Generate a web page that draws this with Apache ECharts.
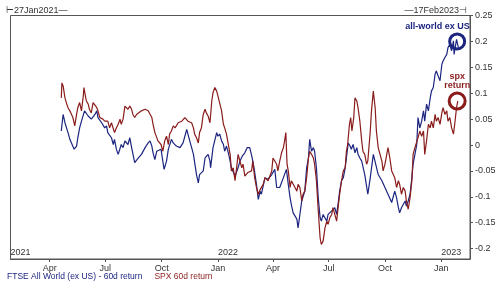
<!DOCTYPE html>
<html><head><meta charset="utf-8">
<script src="https://cdn.jsdelivr.net/npm/echarts@6/dist/echarts.min.js"></script>
<style>html,body{margin:0;padding:0;background:#fff}#c{width:500px;height:285px}</style>
</head><body><div id="c"></div>
<script>
const ftseName = 'FTSE All World (ex US) - 60d return';
const spxName = 'SPX 60d return';
const xRange = ['2021-01-27', '2023-02-17'];
const quarterTicks = ['2021-04-01','2021-07-01','2021-10-01','2022-01-01','2022-04-01','2022-07-01','2022-10-01','2023-01-01'];
const monthLabels = ['Jan','Feb','Mar','Apr','May','Jun','Jul','Aug','Sep','Oct','Nov','Dec'];
const yearTicks = ['2021-01-27','2022-01-01','2023-01-01'];
const yTicks = [-0.2,-0.15,-0.1,-0.05,0,0.05,0.1,0.15,0.2,0.25];
const yRange = [-0.22, 0.25];

const ftseDates = ['2021-04-20','2021-04-23','2021-04-26','2021-05-01','2021-05-04','2021-05-07','2021-05-11','2021-05-15','2021-05-17','2021-05-20','2021-05-23','2021-05-28','2021-05-31','2021-06-03','2021-06-05','2021-06-08','2021-06-14','2021-06-17','2021-06-19','2021-06-25','2021-06-30','2021-07-03','2021-07-05','2021-07-11','2021-07-14','2021-07-16','2021-07-19','2021-07-22','2021-07-27','2021-07-30','2021-08-02','2021-08-07','2021-08-10','2021-08-13','2021-08-18','2021-08-24','2021-08-29','2021-09-04','2021-09-09','2021-09-12','2021-09-15','2021-09-17','2021-09-20','2021-09-23','2021-09-25','2021-09-30','2021-10-05','2021-10-09','2021-10-12','2021-10-17','2021-10-20','2021-10-25','2021-10-31','2021-11-05','2021-11-11','2021-11-13','2021-11-16','2021-11-22','2021-11-27','2021-11-30','2021-12-02','2021-12-08','2021-12-11','2021-12-16','2021-12-19','2021-12-20','2021-12-24','2021-12-30','2022-01-01','2022-01-04','2022-01-07','2022-01-10','2022-01-12','2022-01-15','2022-01-18','2022-01-21','2022-01-23','2022-01-29','2022-02-03','2022-02-06','2022-02-10','2022-02-14','2022-02-18','2022-02-22','2022-02-26','2022-03-01','2022-03-05','2022-03-08','2022-03-11','2022-03-13','2022-03-19','2022-03-24','2022-03-30','2022-04-04','2022-04-07','2022-04-12','2022-04-18','2022-04-23','2022-04-26','2022-04-29','2022-05-01','2022-05-04','2022-05-07','2022-05-10','2022-05-12','2022-05-15','2022-05-18','2022-05-23','2022-05-26','2022-05-29','2022-05-31','2022-06-03','2022-06-06','2022-06-08','2022-06-11','2022-06-14','2022-06-17','2022-06-19','2022-06-22','2022-06-25','2022-06-28','2022-06-30','2022-07-06','2022-07-11','2022-07-14','2022-07-17','2022-07-19','2022-07-22','2022-07-25','2022-07-28','2022-07-30','2022-08-02','2022-08-05','2022-08-07','2022-08-10','2022-08-13','2022-08-16','2022-08-18','2022-08-21','2022-08-24','2022-08-29','2022-09-03','2022-09-07','2022-09-12','2022-09-15','2022-09-20','2022-09-26','2022-10-01','2022-10-06','2022-10-12','2022-10-17','2022-10-20','2022-10-23','2022-10-25','2022-10-28','2022-11-03','2022-11-05','2022-11-08','2022-11-11','2022-11-14','2022-11-16','2022-11-19','2022-11-22','2022-11-24','2022-11-27','2022-11-30','2022-12-03','2022-12-05','2022-12-08','2022-12-11','2022-12-14','2022-12-16','2022-12-19','2022-12-22','2022-12-24','2022-12-27','2022-12-30','2023-01-02','2023-01-04','2023-01-07','2023-01-10','2023-01-12','2023-01-15','2023-01-18','2023-01-21','2023-01-22','2023-01-26','2023-01-29'];
const ftseValues = [0.027,0.059,0.043,0.024,0.011,0.008,-0.008,-0.002,0.014,0.033,0.046,0.066,0.069,0.056,0.056,0.050,0.059,0.066,0.053,0.043,0.033,0.037,0.024,0.014,0.001,0.011,-0.008,-0.018,0.001,-0.005,0.008,0.001,0.014,-0.005,-0.034,-0.025,-0.018,-0.005,0.004,0.008,-0.002,-0.015,-0.028,-0.012,-0.015,-0.008,-0.047,-0.031,-0.008,0.011,0.004,-0.002,-0.005,0.004,0.030,0.021,0.008,-0.018,-0.057,-0.073,-0.057,-0.050,-0.025,-0.018,-0.031,-0.044,-0.005,0.024,0.017,0.021,0.008,0.001,-0.012,-0.002,-0.015,-0.031,-0.044,-0.060,-0.044,-0.031,-0.021,-0.015,-0.005,-0.005,-0.025,-0.044,-0.076,-0.105,-0.089,-0.095,-0.063,-0.066,-0.057,-0.047,-0.082,-0.082,-0.063,-0.047,-0.076,-0.102,-0.115,-0.131,-0.134,-0.143,-0.160,-0.134,-0.108,-0.089,-0.044,-0.025,0.011,-0.012,-0.005,-0.012,-0.044,-0.102,-0.140,-0.147,-0.134,-0.137,-0.147,-0.134,-0.127,-0.121,-0.134,-0.108,-0.089,-0.069,-0.063,-0.044,-0.025,0.004,-0.002,-0.008,0.001,-0.015,-0.005,-0.018,-0.025,-0.031,-0.057,-0.095,-0.063,-0.018,-0.018,-0.057,-0.069,-0.082,-0.095,-0.111,-0.089,-0.102,-0.121,-0.131,-0.121,-0.108,-0.118,-0.108,-0.095,-0.063,-0.037,-0.018,0.001,0.053,0.033,0.046,0.066,0.046,0.079,0.066,0.091,0.104,0.111,0.137,0.143,0.133,0.124,0.156,0.162,0.169,0.175,0.188,0.194,0.182,0.201,0.175,0.204,0.188];

const spxDates = ['2021-04-20','2021-04-21','2021-04-23','2021-04-26','2021-04-29','2021-05-01','2021-05-04','2021-05-07','2021-05-09','2021-05-12','2021-05-15','2021-05-17','2021-05-20','2021-05-23','2021-05-26','2021-05-27','2021-05-30','2021-05-31','2021-06-03','2021-06-05','2021-06-08','2021-06-11','2021-06-14','2021-06-17','2021-06-19','2021-06-22','2021-06-25','2021-06-27','2021-06-30','2021-07-05','2021-07-08','2021-07-11','2021-07-14','2021-07-16','2021-07-19','2021-07-22','2021-07-25','2021-07-27','2021-07-30','2021-08-02','2021-08-05','2021-08-07','2021-08-10','2021-08-13','2021-08-15','2021-08-18','2021-08-21','2021-08-24','2021-08-29','2021-09-04','2021-09-09','2021-09-15','2021-09-17','2021-09-20','2021-09-23','2021-09-25','2021-09-30','2021-10-03','2021-10-06','2021-10-09','2021-10-12','2021-10-14','2021-10-17','2021-10-20','2021-10-23','2021-10-28','2021-11-03','2021-11-08','2021-11-13','2021-11-19','2021-11-22','2021-11-24','2021-11-27','2021-11-30','2021-12-02','2021-12-05','2021-12-08','2021-12-11','2021-12-13','2021-12-16','2021-12-19','2021-12-22','2021-12-24','2021-12-27','2021-12-30','2022-01-01','2022-01-04','2022-01-07','2022-01-10','2022-01-12','2022-01-15','2022-01-18','2022-01-21','2022-01-23','2022-01-26','2022-01-29','2022-01-31','2022-02-03','2022-02-06','2022-02-09','2022-02-11','2022-02-14','2022-02-17','2022-02-19','2022-02-25','2022-02-27','2022-03-02','2022-03-05','2022-03-08','2022-03-11','2022-03-16','2022-03-19','2022-03-24','2022-03-30','2022-04-01','2022-04-04','2022-04-07','2022-04-09','2022-04-12','2022-04-15','2022-04-18','2022-04-20','2022-04-22','2022-04-24','2022-04-26','2022-04-29','2022-05-01','2022-05-04','2022-05-07','2022-05-10','2022-05-12','2022-05-15','2022-05-18','2022-05-20','2022-05-23','2022-05-26','2022-05-29','2022-05-31','2022-06-03','2022-06-06','2022-06-08','2022-06-11','2022-06-14','2022-06-17','2022-06-19','2022-06-22','2022-06-25','2022-06-28','2022-06-30','2022-07-03','2022-07-06','2022-07-08','2022-07-11','2022-07-14','2022-07-17','2022-07-19','2022-07-22','2022-07-25','2022-07-28','2022-07-30','2022-08-01','2022-08-04','2022-08-06','2022-08-08','2022-08-11','2022-08-13','2022-08-16','2022-08-18','2022-08-21','2022-08-24','2022-08-26','2022-08-29','2022-09-01','2022-09-03','2022-09-07','2022-09-09','2022-09-12','2022-09-15','2022-09-17','2022-09-20','2022-09-23','2022-09-26','2022-09-28','2022-10-01','2022-10-04','2022-10-06','2022-10-09','2022-10-12','2022-10-17','2022-10-20','2022-10-23','2022-10-25','2022-10-28','2022-10-31','2022-11-03','2022-11-05','2022-11-08','2022-11-11','2022-11-14','2022-11-16','2022-11-19','2022-11-22','2022-11-24','2022-11-27','2022-11-30','2022-12-03','2022-12-05','2022-12-08','2022-12-11','2022-12-14','2022-12-16','2022-12-19','2022-12-22','2022-12-24','2022-12-27','2022-12-30','2023-01-02','2023-01-04','2023-01-07','2023-01-10','2023-01-12','2023-01-15','2023-01-18','2023-01-21','2023-01-23','2023-01-26','2023-01-28'];
const spxValues = [0.091,0.120,0.114,0.091,0.079,0.072,0.066,0.069,0.053,0.037,0.059,0.072,0.082,0.066,0.095,0.111,0.091,0.085,0.079,0.069,0.062,0.082,0.082,0.072,0.066,0.053,0.053,0.050,0.046,0.046,0.033,0.043,0.043,0.024,0.033,0.040,0.050,0.040,0.050,0.075,0.072,0.069,0.075,0.069,0.059,0.053,0.059,0.062,0.066,0.069,0.066,0.053,0.040,0.024,0.024,0.008,0.001,-0.012,0.008,0.017,0.001,0.021,0.027,0.037,0.033,0.043,0.046,0.053,0.046,0.043,0.033,0.021,0.014,0.004,0.024,0.033,0.059,0.069,0.062,0.056,0.043,0.085,0.101,0.111,0.104,0.095,0.098,0.066,0.040,0.033,0.021,0.001,-0.018,-0.050,-0.044,-0.069,-0.050,-0.018,-0.031,-0.044,-0.037,-0.060,-0.057,-0.053,-0.050,-0.031,-0.063,-0.082,-0.095,-0.086,-0.076,-0.063,-0.069,-0.050,-0.025,-0.028,-0.037,-0.050,-0.031,-0.015,-0.005,0.008,0.024,-0.037,-0.050,-0.082,-0.069,-0.069,-0.082,-0.089,-0.076,-0.082,-0.108,-0.095,-0.089,-0.063,-0.025,-0.012,-0.018,-0.025,-0.037,-0.069,-0.127,-0.179,-0.192,-0.185,-0.160,-0.147,-0.153,-0.140,-0.134,-0.121,-0.134,-0.147,-0.115,-0.095,-0.069,-0.050,-0.044,-0.012,0.001,0.040,0.053,0.027,0.053,0.091,0.085,0.072,0.046,0.008,-0.012,-0.018,-0.037,-0.031,0.027,0.066,0.104,0.072,0.027,-0.005,-0.018,-0.031,-0.050,-0.037,-0.018,-0.005,-0.025,-0.050,-0.063,-0.082,-0.069,-0.076,-0.095,-0.082,-0.089,-0.108,-0.124,-0.102,-0.069,-0.018,-0.005,-0.005,0.014,0.027,0.017,0.027,-0.018,0.008,0.040,0.033,0.046,0.033,0.059,0.046,0.053,0.040,0.062,0.072,0.059,0.066,0.046,0.053,0.033,0.021,0.040,0.072,0.085];

// annotation anchors (date, value) and texts
const ftseCircle = ['2023-01-27', 0.2];
const spxCircle = ['2023-01-27', 0.085];
const ftseNote = { text: 'all-world ex US', at: ['2022-12-26', 0.229] };
const spxNote = { text: 'spx\nreturn', at: ['2023-01-27', 0.124] };

const NAVY = '#1c2580';
const RED = '#8a1c1c';
const AXIS = '#555';
const TXT = '#333';
const FONT = 'Liberation Sans';

function ts(s) { const p = s.split('-').map(Number); return new Date(p[0], p[1]-1, p[2]).getTime(); }
const ptc = a => [ts(a[0]), a[1]];

const chart = echarts.init(document.getElementById('c'), null, { renderer: 'canvas' });
chart.setOption({
  animation: false,
  backgroundColor: '#fff',
  textStyle: { fontFamily: FONT },
  title: [
    { text: '\u22A227Jan2021\u2014', left: 1, top: 1, textStyle: { fontSize: 9, fontWeight: 'normal', color: TXT, fontFamily: FONT } },
    { text: '\u201417Feb2023\u22A3', right: 28, top: 1, textStyle: { fontSize: 9, fontWeight: 'normal', color: TXT, fontFamily: FONT } }
  ],
  legend: {
    left: 0, top: 272, itemWidth: 0, itemHeight: 0, itemGap: 7, icon: 'none',
    padding: [0, 2],
    textStyle: { fontSize: 8.5, fontFamily: FONT, padding: 0 },
    data: [
      { name: ftseName, textStyle: { color: NAVY } },
      { name: spxName, textStyle: { color: RED } }
    ],
    selectedMode: false
  },
  grid: { left: 10.5, right: 30, top: 15.5, bottom: 26, show: true, borderColor: AXIS, borderWidth: 1, backgroundColor: 'transparent' },
  xAxis: [
    {
      type: 'value', min: ts(xRange[0]), max: ts(xRange[1]),
      axisLine: { show: true, onZero: false, lineStyle: { color: AXIS } },
      axisTick: { show: true, length: 3, customValues: quarterTicks.map(ts), lineStyle: { color: AXIS } },
      axisLabel: { customValues: quarterTicks.map(ts), formatter: v => monthLabels[new Date(v).getMonth()], fontSize: 9, color: TXT, margin: 5, fontFamily: FONT, hideOverlap: false },
      splitLine: { show: false }, minorTick: { show: false }
    },
    {
      type: 'value', position: 'bottom', min: ts(xRange[0]), max: ts(xRange[1]),
      axisLine: { show: false, onZero: false }, axisTick: { show: false }, splitLine: { show: false },
      axisLabel: { inside: true, customValues: yearTicks.map(ts), formatter: v => String(new Date(v).getFullYear()), align: 'left', fontSize: 9, color: TXT, margin: 2, fontFamily: FONT, hideOverlap: false, showMinLabel: true, showMaxLabel: true }
    }
  ],
  yAxis: {
    type: 'value', position: 'right', min: yRange[0], max: yRange[1],
    axisLine: { show: true, onZero: false, lineStyle: { color: AXIS } },
    axisTick: { show: true, length: 3, customValues: yTicks, lineStyle: { color: AXIS } },
    axisLabel: { customValues: yTicks, formatter: v => String(Math.round(v * 100) / 100), fontSize: 9, color: TXT, margin: 5, fontFamily: FONT, showMinLabel: true, showMaxLabel: true },
    splitLine: { show: false }
  },
  series: [
    {
      name: ftseName, type: 'line', showSymbol: false, symbol: 'none', color: NAVY,
      lineStyle: { width: 1.2, color: NAVY },
      data: ftseDates.map((d, i) => [ts(d), ftseValues[i]]),
      markPoint: {
        animation: false, silent: true,
        data: [
          { coord: ptc(ftseCircle), symbol: 'circle', symbolSize: 15, itemStyle: { color: 'rgba(0,0,0,0)', borderColor: NAVY, borderWidth: 3 }, label: { show: false } },
          { coord: ptc(ftseNote.at), symbol: 'circle', symbolSize: 0, label: { show: true, position: 'inside', formatter: ftseNote.text, fontSize: 9, fontWeight: 'bold', color: NAVY, fontFamily: FONT } }
        ]
      }
    },
    {
      name: spxName, type: 'line', showSymbol: false, symbol: 'none', color: RED,
      lineStyle: { width: 1.2, color: RED },
      data: spxDates.map((d, i) => [ts(d), spxValues[i]]),
      markPoint: {
        animation: false, silent: true,
        data: [
          { coord: ptc(spxCircle), symbol: 'circle', symbolSize: 16, itemStyle: { color: 'rgba(0,0,0,0)', borderColor: RED, borderWidth: 3 }, label: { show: false } },
          { coord: ptc(spxNote.at), symbol: 'circle', symbolSize: 0, label: { show: true, position: 'inside', formatter: spxNote.text, fontSize: 9, fontWeight: 'bold', color: RED, lineHeight: 9, align: 'center', fontFamily: FONT } }
        ]
      }
    }
  ]
});
</script></body></html>
